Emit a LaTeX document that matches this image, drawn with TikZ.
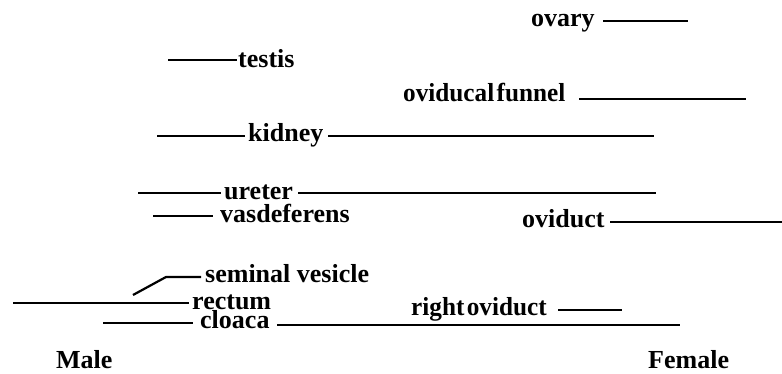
\documentclass[tikz,border=0pt]{standalone}
\usepackage{fontspec}
\setmainfont{Liberation Serif}
\begin{document}
\begin{tikzpicture}[x=1pt,y=-1pt,
  lbl/.style={anchor=base west,inner sep=0pt,font=\fontsize{26}{26}\selectfont\bfseries},
  ln/.style={line width=2.2pt}]
\useasboundingbox (0,0) rectangle (782,374);
% labels
\node[lbl] (ovary) at (531,27) {ovary};
\node[lbl] (testis) at (238,68) {testis};
\node[lbl,xscale=0.97] (funnel) at (403,102) {oviducal\hspace{-4pt} funnel};
\node[lbl] (kidney) at (248,142) {kidney};
\node[lbl] (ureter) at (224,200) {ureter};
\node[lbl] (vas) at (220,223) {vasdeferens};
\node[lbl] (oviduct) at (522,228) {oviduct};
\node[lbl] (seminal) at (205,283) {seminal vesicle};
\node[lbl] (rectum) at (192,309) {rectum};
\node[lbl,xscale=0.97] (roviduct) at (411,316) {right\hspace{-4pt} oviduct};
\node[lbl] (cloaca) at (200,328) {cloaca};
\node[lbl] (male) at (56,368) {Male};
\node[lbl] (female) at (648,368) {Female};
% line ends
\coordinate (ov1) at (603,21); \coordinate (ov2) at (688,21);
\coordinate (te1) at (168,60); \coordinate (te2) at (237,60);
\coordinate (fu1) at (579,99); \coordinate (fu2) at (746,99);
\coordinate (ki1) at (157,136); \coordinate (ki2) at (245,136);
\coordinate (ki3) at (328,136); \coordinate (ki4) at (654,136);
\coordinate (ur1) at (138,193); \coordinate (ur2) at (221,193);
\coordinate (ur3) at (298,193); \coordinate (ur4) at (656,193);
\coordinate (va1) at (153,216); \coordinate (va2) at (213,216);
\coordinate (od1) at (610,222); \coordinate (od2) at (782,222);
\coordinate (se0) at (133,295); \coordinate (se1) at (166,277); \coordinate (se2) at (201,277);
\coordinate (re1) at (13,303); \coordinate (re2) at (189,303);
\coordinate (ro1) at (558,310); \coordinate (ro2) at (622,310);
\coordinate (cl1) at (103,323); \coordinate (cl2) at (193,323);
\coordinate (cl3) at (277,325); \coordinate (cl4) at (680,325);
% connectors
\draw[ln] (ov1) -- (ov2);
\draw[ln] (te1) -- (te2);
\draw[ln] (fu1) -- (fu2);
\draw[ln] (ki1) -- (ki2);
\draw[ln] (ki3) -- (ki4);
\draw[ln] (ur1) -- (ur2);
\draw[ln] (ur3) -- (ur4);
\draw[ln] (va1) -- (va2);
\draw[ln] (od1) -- (od2);
\draw[ln] (se0) -- (se1) -- (se2);
\draw[ln] (re1) -- (re2);
\draw[ln] (ro1) -- (ro2);
\draw[ln] (cl1) -- (cl2);
\draw[ln] (cl3) -- (cl4);
\end{tikzpicture}
\end{document}
